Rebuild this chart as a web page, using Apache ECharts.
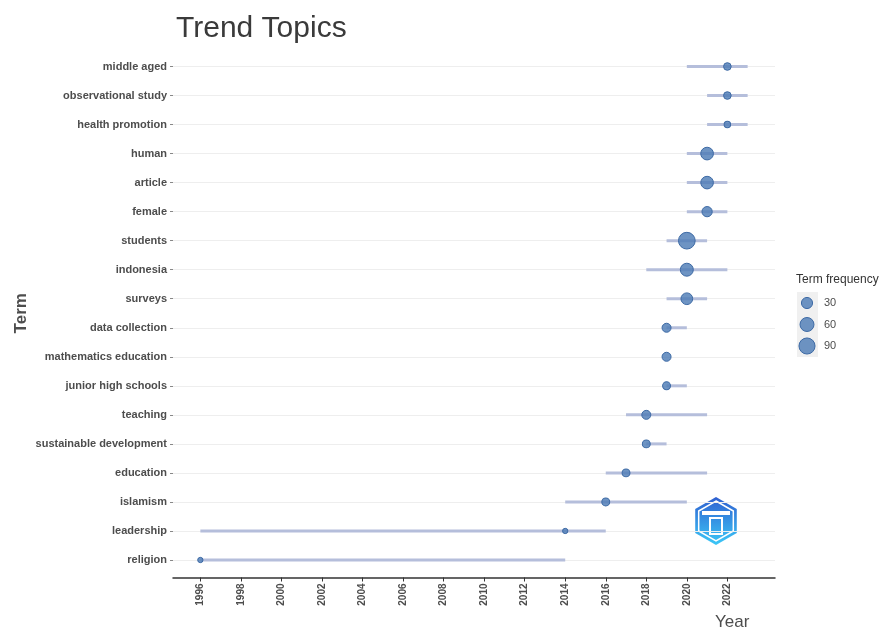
<!DOCTYPE html>
<html><head><meta charset="utf-8">
<script src="https://cdn.jsdelivr.net/npm/echarts@6/dist/echarts.min.js"></script>
<style>html,body{margin:0;padding:0;background:#fff}#c{width:887px;height:628px}</style>
</head><body><div id="c"></div>
<script>
// ---- data ----
const terms = ['middle aged','observational study','health promotion','human','article','female','students','indonesia','surveys','data collection','mathematics education','junior high schools','teaching','sustainable development','education','islamism','leadership','religion'];
const yearQ1 =     [2020,2021,2021,2020,2020,2020,2019,2018,2019,2019,2019,2019,2017,2018,2016,2014,1996,1996];
const yearMedian = [2022,2022,2022,2021,2021,2021,2020,2020,2020,2019,2019,2019,2018,2018,2017,2016,2014,1996];
const yearQ3 =     [2023,2023,2023,2022,2022,2022,2021,2022,2021,2020,2019,2020,2021,2019,2021,2020,2016,2014];
const termFreq =   [9,9,6,45,44,23,100,48,35,15,15,10,15,10,10,10,5,5];
const yearTicks = [1996,1998,2000,2002,2004,2006,2008,2010,2012,2014,2016,2018,2020,2022];
const legendValues = [30,60,90];

const fMin = Math.min(...termFreq), fMax = Math.max(...termFreq);
function sizeOf(f){ return 5.3 + 11.4*Math.sqrt(Math.max(0,(f-fMin)/(fMax-fMin))); }

const pointColor = 'rgba(78,124,182,0.82)';
const pointBorder = '#3d6aa5';
const segColor = '#b5bedb';
const textCol = '#4d4d4d';

const chart = echarts.init(document.getElementById('c'), null, {renderer:'canvas'});

// legend graphics
const legendGraphics = [
  {type:'text', left:796, top:274, style:{text:'Term frequency', fill:'#333', font:'12px "Liberation Sans", Arial'}},
  {type:'rect', shape:{x:797, y:292, width:21, height:65}, style:{fill:'#f0f0f0'}}
];
legendValues.forEach((v,k)=>{
  const cy = 303 + k*21.5;
  legendGraphics.push({type:'circle', shape:{cx:807, cy:cy, r:sizeOf(v)/2}, style:{fill:pointColor, stroke:pointBorder, lineWidth:1}});
  legendGraphics.push({type:'text', x:824, y:cy, style:{text:String(v), fill:textCol, font:'11px "Liberation Sans", Arial', textVerticalAlign:'middle'}});
});
// watermark-like hexagon logo
function hex(cx,cy,r){const p=[];for(let i=0;i<6;i++){const a=Math.PI/180*(60*i-90);p.push([cx+r*Math.cos(a),cy+r*Math.sin(a)]);}return p;}
legendGraphics.push({type:'polygon', shape:{points:hex(716,521,24)}, style:{fill:new echarts.graphic.LinearGradient(0,0,0,1,[{offset:0,color:'#2f5fd0'},{offset:1,color:'#3cc8f7'}])}});
legendGraphics.push({type:'polygon', shape:{points:hex(716,521,20)}, style:{fill:'none', stroke:'#fff', lineWidth:1.5}});
legendGraphics.push({type:'rect', shape:{x:702, y:511, width:28, height:4}, style:{fill:'#fff'}});
legendGraphics.push({type:'rect', shape:{x:710, y:518, width:12, height:16}, style:{fill:'none', stroke:'#fff', lineWidth:2}});

chart.setOption({
  animation:false,
  backgroundColor:'#fff',
  title:[
    {text:'Trend Topics', left:171, top:9, textStyle:{fontSize:30, fontWeight:'normal', color:'#3a3a3a', fontFamily:'"Liberation Sans", Arial'}},
    {text:'Year', left:710, top:609, textStyle:{fontSize:17, fontWeight:'normal', color:textCol, fontFamily:'"Liberation Sans", Arial'}}
  ],
  grid:{left:173, right:112, top:66.5, bottom:68, containLabel:false},
  xAxis:{
    type:'value', min:1994.65, max:2024.35, offset:17.5,
    axisLine:{show:true, lineStyle:{color:'#333', width:1.5}},
    axisTick:{show:true, customValues:yearTicks, length:4, lineStyle:{color:'#333'}},
    axisLabel:{customValues:yearTicks, formatter:(v)=>String(v), rotate:90, color:textCol, fontWeight:'bold', fontSize:10, fontFamily:'"Liberation Sans", Arial', margin:6},
    splitLine:{show:false}
  },
  yAxis:{
    type:'category', data:terms, inverse:true, boundaryGap:false,
    name:'Term', nameLocation:'middle', nameGap:143, nameRotate:90, nameMoveOverlap:false,
    nameTextStyle:{fontSize:17, fontWeight:'bold', color:textCol, fontFamily:'"Liberation Sans", Arial'},
    axisLine:{show:false},
    axisTick:{show:true, length:3, lineStyle:{color:'#888'}},
    axisLabel:{color:textCol, fontWeight:'bold', fontSize:11, fontFamily:'"Liberation Sans", Arial', margin:6},
    splitLine:{show:true, lineStyle:{color:'#eeeeee', width:1}}
  },
  graphic:legendGraphics,
  series:[
    {
      type:'custom', name:'range', clip:false,
      data: terms.map((t,i)=>[yearQ1[i], yearQ3[i], i]),
      encode:{x:[0,1], y:2},
      renderItem:(params, api)=>{
        const a = api.coord([api.value(0), api.value(2)]);
        const b = api.coord([api.value(1), api.value(2)]);
        return {type:'line', shape:{x1:a[0], y1:a[1], x2:b[0], y2:b[1]}, style:{stroke:segColor, lineWidth:3}};
      }
    },
    {
      type:'scatter', name:'terms', clip:false,
      data: terms.map((t,i)=>[yearMedian[i], i, termFreq[i]]),
      symbolSize:(v)=>sizeOf(v[2]),
      itemStyle:{color:pointColor, borderColor:pointBorder, borderWidth:1, opacity:1}
    }
  ]
});
</script></body></html>
